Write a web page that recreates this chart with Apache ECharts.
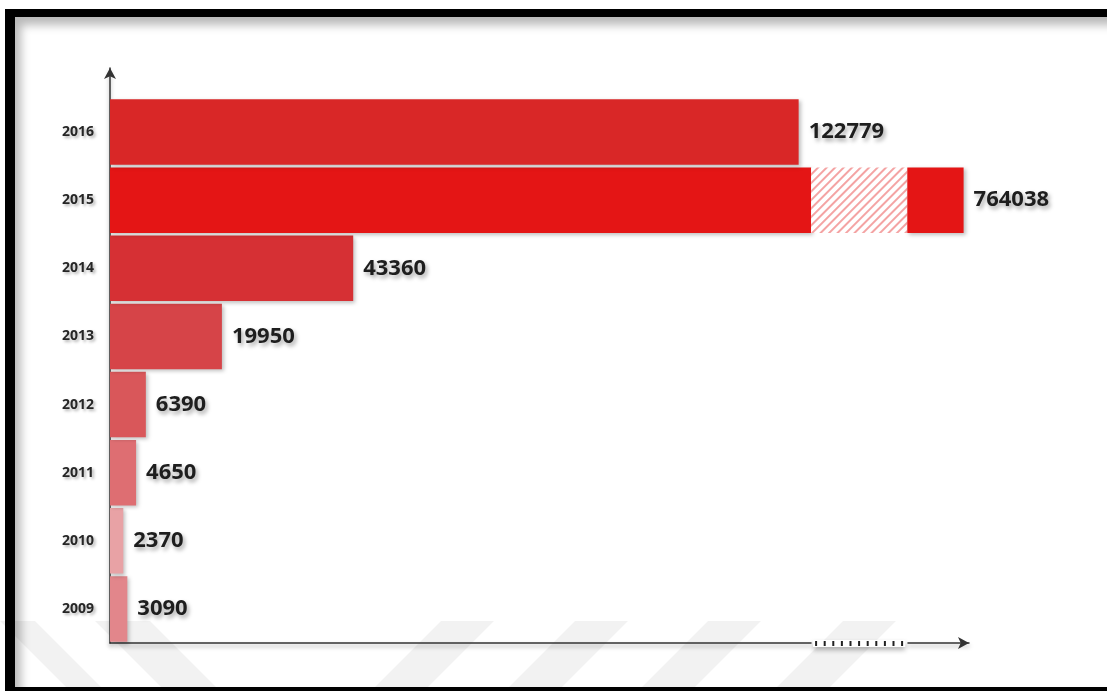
<!DOCTYPE html>
<html>
<head>
<meta charset="utf-8">
<script src="https://cdn.jsdelivr.net/npm/echarts@6/dist/echarts.min.js"></script>
<style>
html,body{margin:0;padding:0;background:#fff;width:1107px;height:691px;overflow:hidden;}
#wm{position:absolute;left:0;top:0;width:1107px;height:691px;}
#frame{position:absolute;left:5px;top:9px;width:1120px;height:682px;box-sizing:border-box;
  border-left:10px solid #000;border-top:8px solid #000;border-bottom:4px solid #000;
  box-shadow:inset 6px 8px 10px rgba(0,0,0,0.28);}
#chart{position:absolute;left:0;top:0;width:1107px;height:691px;}
</style>
</head>
<body>
<svg id="wm" width="1107" height="691">
  <g fill="#000" fill-opacity="0.05">
    <polygon points="0,621 35,621 102,688 67,688"/>
    <polygon points="95,621 150,621 217,688 162,688"/>
    <polygon points="441,621 494,621 427,688 374,688"/>
    <polygon points="575,621 628,621 561,688 508,688"/>
    <polygon points="708,621 761,621 694,688 641,688"/>
    <polygon points="843,621 896,621 829,688 776,688"/>
  </g>
</svg>
<div id="frame"></div>
<div id="chart"></div>
<script>
// ---- data ----
const years = ['2009', '2010', '2011', '2012', '2013', '2014', '2015', '2016'];
const values = [3090, 2370, 4650, 6390, 19950, 43360, 764038, 122779];
const breakStart = 125000;
const breakEnd = 754000;
const axisMax = 765000;

// ---- styles ----
const barColors = ['#e2868b', '#e8a2a5', '#de6e72', '#d9575a', '#d64448', '#d63034', '#e41515', '#d92727'];

const isBroken = v => v > breakEnd;
const baseData = values.map((v, i) => ({
  value: isBroken(v) ? breakStart : v,
  itemStyle: { color: barColors[i] },
  label: { show: !isBroken(v) }
}));
const hatchData = values.map(v => isBroken(v) ? breakEnd - breakStart : '-');
const tailData = values.map((v, i) => isBroken(v) ? { value: v - breakEnd, itemStyle: { color: barColors[i] } } : '-');

const labelStyle = {
  position: 'right',
  distance: 10,
  fontFamily: 'Open Sans',
  fontWeight: 'bold',
  fontSize: 22,
  color: '#1e1e1e',
  textShadowColor: 'rgba(0,0,0,0.35)',
  textShadowBlur: 4,
  textShadowOffsetX: 2,
  textShadowOffsetY: 3
};
const barShadow = { shadowColor: 'rgba(0,0,0,0.25)', shadowBlur: 4, shadowOffsetX: 2, shadowOffsetY: 2 };
const axisLineStyle = { color: '#333', width: 1.5, shadowColor: 'rgba(0,0,0,0.35)', shadowBlur: 4, shadowOffsetY: 3 };

const chart = echarts.init(document.getElementById('chart'), null, { renderer: 'canvas' });
chart.setOption({
  backgroundColor: 'transparent',
  animation: false,
  grid: [
    { left: 110, right: 138, top: 98, bottom: 48 },
    { left: 110, right: 138, top: 68, bottom: 48 }
  ],
  xAxis: [
    {
      type: 'value', gridIndex: 0, min: 0, max: axisMax,
      breaks: [{ start: breakStart, end: breakEnd, gap: '11.2%' }],
      breakArea: { show: true, zigzagAmplitude: 0, itemStyle: { color: 'rgba(255,255,255,0)', borderColor: 'rgba(0,0,0,0)' } },
      axisLine: { show: true, symbol: ['none', 'arrow'], symbolSize: [9, 11], lineStyle: axisLineStyle },
      axisTick: { show: false }, axisLabel: { show: false }, splitLine: { show: false }
    },
    { type: 'value', gridIndex: 1, show: false }
  ],
  yAxis: [
    {
      type: 'category', gridIndex: 0, data: years,
      axisLine: { show: false }, axisTick: { show: false }, splitLine: { show: false },
      axisLabel: {
        margin: 16, fontFamily: 'Open Sans', fontWeight: 'bold', fontSize: 14, color: '#262626',
        textShadowColor: 'rgba(0,0,0,0.3)', textShadowBlur: 3, textShadowOffsetX: 2, textShadowOffsetY: 2
      }
    },
    {
      type: 'value', gridIndex: 1, min: 0, max: 1,
      axisLine: { show: true, symbol: ['none', 'arrow'], symbolSize: [9, 11], lineStyle: axisLineStyle },
      axisTick: { show: false }, axisLabel: { show: false }, splitLine: { show: false }
    }
  ],
  series: [
    {
      type: 'bar', xAxisIndex: 0, yAxisIndex: 0, stack: 'total', barCategoryGap: '4%',
      data: baseData, itemStyle: barShadow,
      label: Object.assign({ show: true, formatter: p => values[p.dataIndex] }, labelStyle)
    },
    {
      type: 'bar', xAxisIndex: 0, yAxisIndex: 0, stack: 'total', barCategoryGap: '4%',
      data: hatchData,
      itemStyle: {
        color: '#ffffff',
        decal: { symbol: 'rect', color: '#f4a3a3', dashArrayX: [1, 0], dashArrayY: [1.5, 4], rotation: -Math.PI / 4 }
      }
    },
    {
      type: 'bar', xAxisIndex: 0, yAxisIndex: 0, stack: 'total', barCategoryGap: '4%',
      data: tailData, itemStyle: barShadow,
      label: Object.assign({ show: true, formatter: p => values[p.dataIndex] }, labelStyle)
    }
  ]
});

// dashed marker on the axis where it is broken, placed through the axis scale
const x0 = chart.convertToPixel({ xAxisIndex: 0 }, breakStart);
const x1 = chart.convertToPixel({ xAxisIndex: 0 }, breakEnd);
const yAx = chart.convertToPixel({ yAxisIndex: 1 }, 0);
chart.setOption({
  graphic: [
    {
      type: 'rect', z: 100,
      shape: { x: x0 + 2, y: yAx - 3, width: x1 - x0 - 4, height: 7 },
      style: { fill: '#fff', shadowColor: 'rgba(0,0,0,0.3)', shadowBlur: 5, shadowOffsetY: 3 }
    },
    {
      type: 'line', z: 101,
      shape: { x1: x0 + 4, y1: yAx + 0.5, x2: x1 - 4, y2: yAx + 0.5 },
      style: { stroke: '#222', lineWidth: 5, lineDash: [2, 6.6] }
    }
  ]
});
</script>
</body>
</html>
